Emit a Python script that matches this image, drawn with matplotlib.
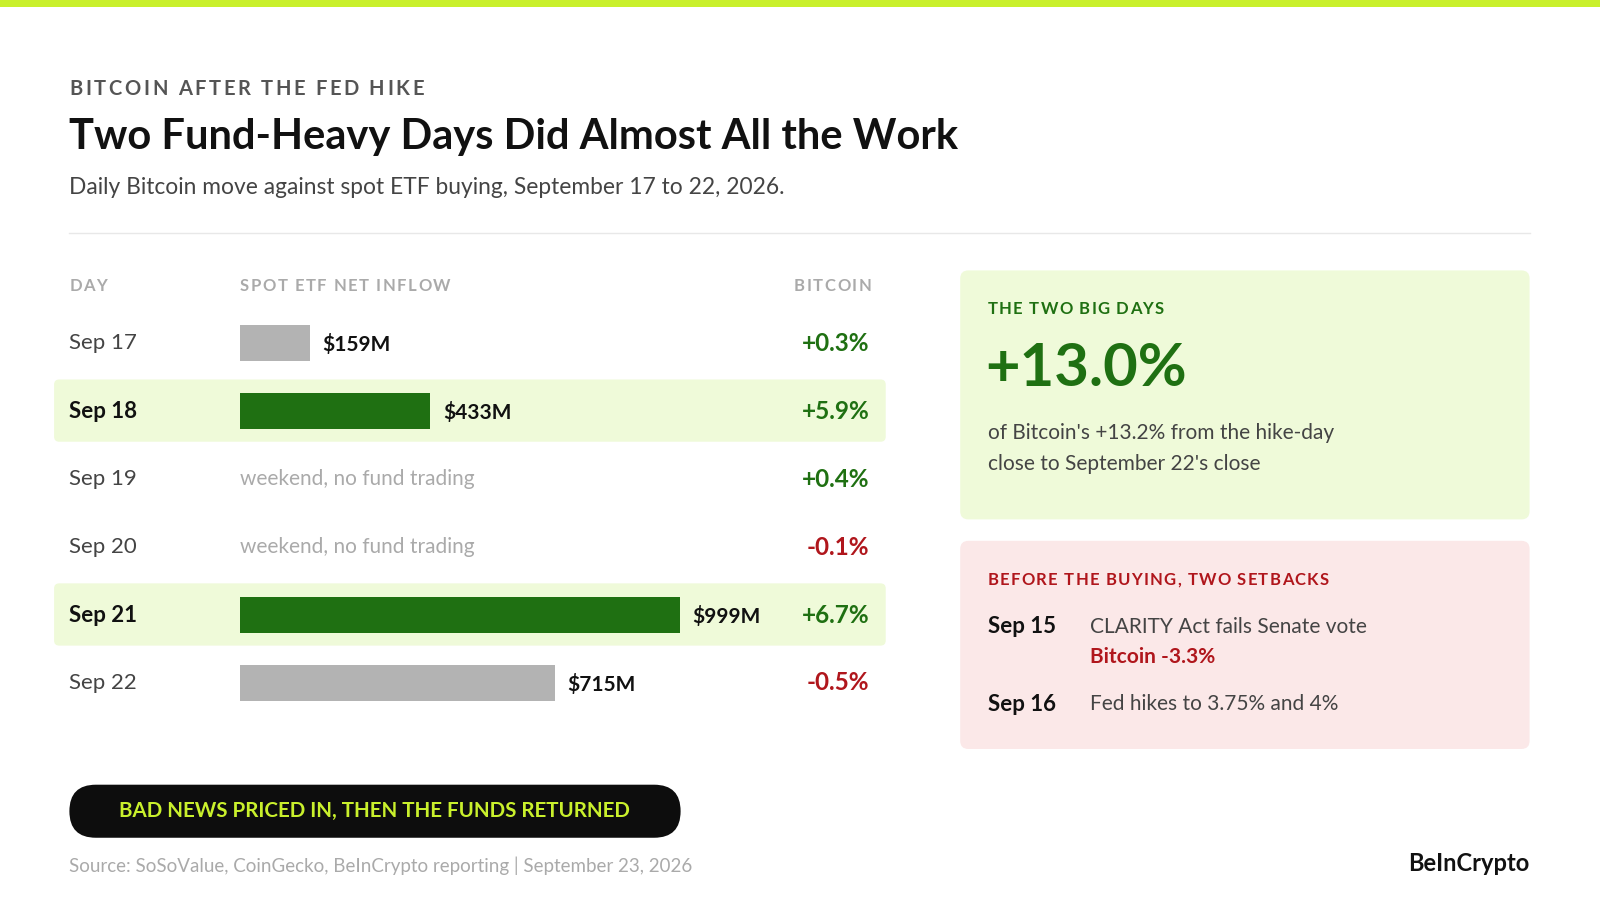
import matplotlib.pyplot as plt
from matplotlib.patches import FancyBboxPatch, Rectangle

plt.rcParams["font.family"] = ["Lato", "DejaVu Sans"]

days = ["Sep 17", "Sep 18", "Sep 19", "Sep 20", "Sep 21", "Sep 22"]
inflow_musd = [159, 433, None, None, 999, 715]
btc_move = [0.3, 5.9, 0.4, -0.1, 6.7, -0.5]
big_days = ["Sep 18", "Sep 21"]
setbacks = [("Sep 15", "CLARITY Act fails Senate vote", "Bitcoin -3.3%"),
            ("Sep 16", "Fed hikes to 3.75% and 4%", None)]

GREEN = "#1f7012"
RED = "#b0161c"
GREY_BAR = "#b3b3b3"
LIME = "#c9f02c"
PALE_GREEN = "#effad9"
PALE_RED = "#fbe8e8"
W, H = 1568, 882

fig = plt.figure(figsize=(16, 9), dpi=100)
ax = fig.add_axes([0, 0, 1, 1])
ax.set_xlim(0, W)
ax.set_ylim(H, 0)
ax.axis("off")
renderer = fig.canvas.get_renderer()
px_per_unit = 1600 / W


def rbox(x0, y0, x1, y1, color, pad=8):
    ax.add_patch(FancyBboxPatch((x0 + pad, y0 + pad), x1 - x0 - 2 * pad, y1 - y0 - 2 * pad,
                                boxstyle=f"round,pad={pad}", fc=color, ec="none", zorder=0))


def spaced(x, y, s, spacing, ha="left", **kw):
    """Draw text with letter spacing (spacing in data px)."""
    widths = []
    for ch in s:
        t = ax.text(0, 0, ch if ch != " " else "\u00a0", **kw)
        widths.append(t.get_window_extent(renderer).width / px_per_unit)
        t.remove()
    total = sum(widths) + spacing * (len(s) - 1)
    cx = x - total if ha == "right" else x
    for ch, w in zip(s, widths):
        ax.text(cx, y, ch, va="center", **kw)
        cx += w + spacing


ax.add_patch(Rectangle((0, 0), W, 7, fc=LIME, ec="none"))
spaced(68, 87, "BITCOIN AFTER THE FED HIKE", 2.6, fontsize=14.5, fontweight="bold",
       color="#555555")
ax.text(68, 134, "Two Fund-Heavy Days Did Almost All the Work", fontsize=30,
        fontweight="bold", color="#111111", va="center")
ax.text(68, 184, "Daily Bitcoin move against spot ETF buying, September 17 to 22, 2026.",
        fontsize=16.4, color="#444444", va="center")
ax.plot([68, 1499], [228, 228], color="#e8e8e8", lw=1)

# column heads
for x, t, ha in [(68, "DAY", "left"), (235, "SPOT ETF NET INFLOW", "left"), (854, "BITCOIN", "right")]:
    spaced(x, 280, t, 1.5, ha=ha, fontsize=12, fontweight="bold", color="#aaaaaa")

row_y0, row_h = 303, 66.6
for i, d in enumerate(days):
    y = row_y0 + row_h * (i + 0.5)
    big = d in big_days
    if big:
        rbox(53, y - 31, 868, y + 30, PALE_GREEN, pad=5)
    ax.text(68, y, d, fontsize=16, fontweight="bold" if big else "normal",
            color="#111111" if big else "#444444", va="center")
    if inflow_musd[i] is None:
        ax.text(235, y, "weekend, no fund trading", fontsize=15, color="#aaaaaa", va="center")
    v = btc_move[i]
    ax.text(852, y, f"{v:+.1f}%", fontsize=17.5, fontweight="bold",
            color=GREEN if v >= 0 else RED, va="center", ha="right")

# bars on their own scaled axes
bx = fig.add_axes([235 / W, 1 - (row_y0 + 6 * row_h) / H, (666 - 235) / W, 6 * row_h / H])
bx.set_xlim(0, 999)
bx.set_ylim(5.5, -0.5)
bx.axis("off")
for i, (d, v) in enumerate(zip(days, inflow_musd)):
    if v is None:
        continue
    bx.barh(i, v, height=0.52, color=GREEN if d in big_days else GREY_BAR)
    bx.annotate(f"${v}M", (v, i), xytext=(9, -1), textcoords="offset points",
                fontsize=15, fontweight="bold", color="#111111", va="center", clip_on=False)

# cards
rbox(941, 265, 1499, 509, PALE_GREEN)
spaced(968, 303, "THE TWO BIG DAYS", 1.2, fontsize=12, fontweight="bold", color=GREEN)
ax.text(966, 362, "+13.0%", fontsize=43, fontweight="bold", color=GREEN, va="center")
ax.text(968, 424, "of Bitcoin's +13.2% from the hike-day", fontsize=15, color="#444444", va="center")
ax.text(968, 455, "close to September 22's close", fontsize=15, color="#444444", va="center")

rbox(941, 530, 1499, 734, PALE_RED)
spaced(968, 568, "BEFORE THE BUYING, TWO SETBACKS", 1.2, fontsize=12, fontweight="bold",
       color=RED)
for (d, ev, note), y in zip(setbacks, [614, 690]):
    ax.text(968, y, d, fontsize=16, fontweight="bold", color="#111111", va="center")
    ax.text(1068, y, ev, fontsize=15, color="#444444", va="center")
    if note:
        ax.text(1068, y + 30, note, fontsize=15, fontweight="bold", color=RED, va="center")

# pill
ax.add_patch(FancyBboxPatch((68, 769), 599, 52, boxstyle="round,pad=0,rounding_size=26",
                            fc="#0d0d0d", ec="none"))
ax.text(367, 795, "BAD NEWS PRICED IN, THEN THE FUNDS RETURNED", fontsize=14.8,
        fontweight="bold", color=LIME, va="center", ha="center")

ax.text(68, 848, "Source: SoSoValue, CoinGecko, BeInCrypto reporting | September 23, 2026",
        fontsize=13.5, color="#aaaaaa", va="center")
ax.text(1499, 846, "BeInCrypto", fontsize=17, fontweight="bold", color="#111111",
        va="center", ha="right")

fig.savefig("out.png", dpi=100, facecolor="white")
